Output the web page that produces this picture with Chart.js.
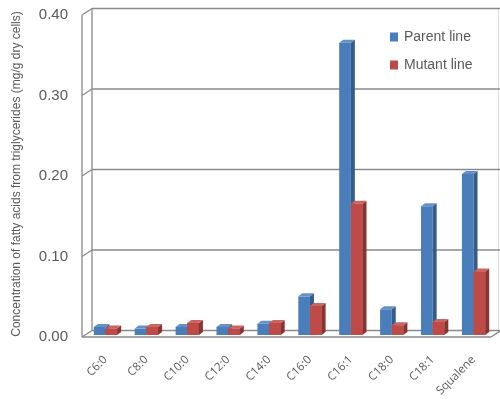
<!DOCTYPE html>
<html>
<head>
<meta charset="utf-8">
<script src="https://cdn.jsdelivr.net/npm/chart.js@4"></script>
<style>
  html, body { margin: 0; padding: 0; background: #ffffff; }
  #wrap { width: 500px; height: 399px; }
</style>
</head>
<body>
<div id="wrap"><canvas id="c" width="500" height="399"></canvas></div>
<script>
// Fatty acid composition of triglycerides (mg/g dry cells)
const categories = ['C6:0', 'C8:0', 'C10:0', 'C12:0', 'C14:0', 'C16:0', 'C16:1', 'C18:0', 'C18:1', 'Squalene'];
const parentLine = [0.010, 0.008, 0.010, 0.010, 0.014, 0.048, 0.363, 0.032, 0.160, 0.200];
const mutantLine = [0.008, 0.010, 0.015, 0.008, 0.015, 0.036, 0.163, 0.012, 0.016, 0.079];
const seriesNames = ['Parent line', 'Mutant line'];
const yAxisTitle = 'Concentration of fatty acids from triglycerides (mg/g dry cells)';
const yMin = 0, yMax = 0.4, yStep = 0.1;

// face colours for the pseudo-3D columns: front, side, top
const palette = [
  { front: '#4a7ebb', side: '#355c8a', top: '#6591c9' },
  { front: '#be4b48', side: '#883432', top: '#cc6461' }
];

// depth of the box: back wall offset, front edge offset, column depth
const D = { bx: 7, by: 4.5, fx: 3, fy: 2, cx: 4, cy: 3 };
const GRID = '#8a8a8a';
const TEXT = '#595959';

function seg(ctx, x1, y1, x2, y2) {
  ctx.beginPath(); ctx.moveTo(x1, y1); ctx.lineTo(x2, y2); ctx.stroke();
}
function poly(ctx, pts, fill) {
  ctx.beginPath();
  ctx.moveTo(pts[0][0], pts[0][1]);
  for (let i = 1; i < pts.length; i++) ctx.lineTo(pts[i][0], pts[i][1]);
  ctx.closePath();
  ctx.fillStyle = fill;
  ctx.fill();
}

// back wall, side wall and floor of the 3D box
const boxWalls = {
  id: 'boxWalls',
  beforeDatasetsDraw(chart) {
    const { ctx, chartArea: a, scales: { y } } = chart;
    const zero = y.getPixelForValue(yMin);
    const top = y.getPixelForValue(yMax);
    ctx.save();
    ctx.lineCap = 'butt';
    // right edge of the back wall
    ctx.strokeStyle = '#dcdcdc'; ctx.lineWidth = 1;
    seg(ctx, a.right + D.bx - 2.5, top - D.by, a.right + D.bx - 2.5, zero - D.by);
    ctx.strokeStyle = GRID; ctx.lineWidth = 1.3;
    // gridlines on back wall + diagonals on the side wall
    y.ticks.forEach(t => {
      const py = y.getPixelForValue(t.value);
      seg(ctx, a.left + D.bx, py - D.by, a.right + D.bx, py - D.by);
      seg(ctx, a.left - D.fx, py + D.fy, a.left + D.bx, py - D.by);
    });
    // side wall verticals
    seg(ctx, a.left - D.fx, top + D.fy, a.left - D.fx, zero + D.fy);
    seg(ctx, a.left + D.bx, top - D.by, a.left + D.bx, zero - D.by);
    // floor front and right edges
    seg(ctx, a.left - D.fx, zero + D.fy, a.right - D.fx, zero + D.fy);
    seg(ctx, a.right - D.fx, zero + D.fy, a.right + D.bx, zero - D.by);
    ctx.restore();
  }
};

// side and top faces of each column
const columnFaces = {
  id: 'columnFaces',
  afterDatasetsDraw(chart) {
    const ctx = chart.ctx;
    const metas = chart.getSortedVisibleDatasetMetas().slice().sort((p, q) => p.index - q.index);
    ctx.save();
    for (let i = 0; i < chart.data.labels.length; i++) {
      metas.forEach((meta, k) => {
        const el = meta.data[i];
        if (!el) return;
        if (k > 0) el.draw(ctx);
        const p = el.getProps(['x', 'y', 'base', 'width'], true);
        const l = p.x - p.width / 2, r = p.x + p.width / 2;
        const c = palette[meta.index];
        poly(ctx, [[r, p.y], [r + D.cx, p.y - D.cy], [r + D.cx, p.base - D.cy], [r, p.base]], c.side);
        poly(ctx, [[l, p.y], [l + D.cx, p.y - D.cy], [r + D.cx, p.y - D.cy], [r, p.y]], c.top);
      });
    }
    ctx.restore();
  }
};

// legend placed inside the plot, top right
const insideLegend = {
  id: 'insideLegend',
  afterDraw(chart) {
    const ctx = chart.ctx;
    ctx.save();
    ctx.font = '14px "Liberation Sans", Arial, sans-serif';
    ctx.textBaseline = 'middle';
    ctx.textAlign = 'left';
    chart.data.datasets.forEach((ds, k) => {
      const cy = 37 + k * 28;
      ctx.fillStyle = ds.backgroundColor;
      ctx.fillRect(390, cy - 4.5, 8, 9);
      ctx.fillStyle = TEXT;
      ctx.fillText(ds.label, 404, cy);
    });
    ctx.restore();
  }
};

new Chart(document.getElementById('c'), {
  type: 'bar',
  data: {
    labels: categories,
    datasets: [
      { label: seriesNames[0], data: parentLine, backgroundColor: palette[0].front },
      { label: seriesNames[1], data: mutantLine, backgroundColor: palette[1].front }
    ]
  },
  options: {
    responsive: false,
    animation: false,
    devicePixelRatio: 1,
    layout: { padding: { left: 0, right: 6, top: 13, bottom: 0 } },
    datasets: { bar: { categoryPercentage: 0.57, barPercentage: 1.0, borderWidth: 0 } },
    plugins: { legend: { display: false }, tooltip: { enabled: false } },
    scales: {
      x: {
        grid: { display: false, drawTicks: false },
        border: { display: false },
        ticks: {
          color: TEXT,
          font: { family: '"Open Sans", sans-serif', size: 11.5 },
          minRotation: 45, maxRotation: 45,
          padding: 18,
          autoSkip: false
        },
        afterFit(s) {
          s.height = 64;
          s.paddingTop = 0; s.paddingBottom = 0;
          s.paddingLeft = 0; s.paddingRight = 0;
        }
      },
      y: {
        min: yMin, max: yMax,
        grid: { display: false, drawTicks: false },
        border: { display: false },
        ticks: {
          stepSize: yStep,
          color: TEXT,
          font: { family: '"Liberation Sans", Arial, sans-serif', size: 15 },
          padding: 17,
          labelOffset: 2,
          callback: v => Number(v).toFixed(2)
        },
        title: {
          display: true,
          text: yAxisTitle,
          color: TEXT,
          font: { family: '"Liberation Sans", Arial, sans-serif', size: 12 },
          padding: { top: 9, bottom: 0 }
        },
        afterFit(s) { s.width = 85; s.paddingTop = 0; s.paddingBottom = 0; }
      }
    }
  },
  plugins: [boxWalls, columnFaces, insideLegend]
});
</script>
</body>
</html>
